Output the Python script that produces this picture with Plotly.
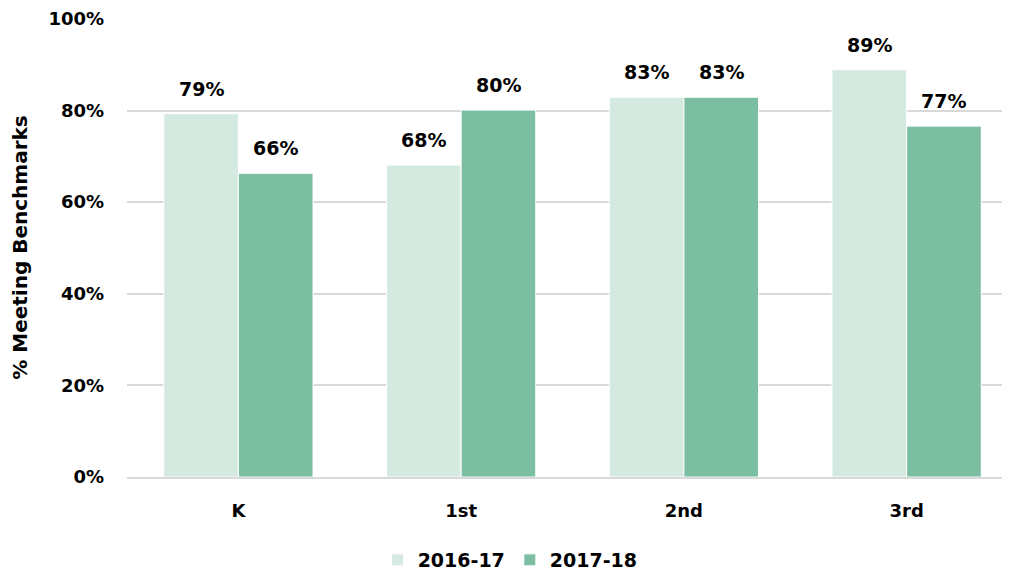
import plotly.graph_objects as go

grades = ["K", "1st", "2nd", "3rd"]
y2016 = [0.793, 0.681, 0.829, 0.889]
y2017 = [0.663, 0.801, 0.829, 0.766]
series_names = ["2016-17", "2017-18"]
yticks = [0, 0.2, 0.4, 0.6, 0.8, 1.0]
ytick_labels = ["0%", "20%", "40%", "60%", "80%", "100%"]

font_fam = "'DejaVu Sans', sans-serif"
W, H = 1010, 571
# the page body adds an 8px offset; margins compensate for it
ml, mr, mt, mb = 119, 0, 10, 91
bargap = 0.33
cat_px = (W - ml - mr) / len(grades)
bar_px = cat_px * (1 - bargap) / 2

fig = go.Figure()
colors = ["#d4e9e0", "#7bbea2"]
for i, (name, vals) in enumerate([(series_names[0], y2016), (series_names[1], y2017)]):
    fig.add_trace(go.Bar(
        x=grades, y=vals, name="<b>%s</b>" % name, marker_color=colors[i],
        marker_line=dict(color="white", width=1),
    ))
    shift = (-0.5 if i == 0 else 0.5) * bar_px
    for g, v in zip(grades, vals):
        fig.add_annotation(x=g, y=v, xref="x", yref="y", text="<b>%d%%</b>" % round(v * 100),
                           showarrow=False, xshift=shift, yshift=25, yanchor="middle",
                           font=dict(size=19, color="black", family=font_fam))

fig.update_layout(
    width=W, height=H,
    margin=dict(l=ml, r=mr, t=mt, b=mb),
    plot_bgcolor="white", paper_bgcolor="white",
    barmode="group", bargap=bargap, bargroupgap=0,
    font=dict(family=font_fam, color="black"),
    legend=dict(orientation="h", x=0.43, xanchor="center", y=-0.14, yanchor="top",
                font=dict(size=19, family=font_fam), traceorder="normal",
                itemwidth=30),
    showlegend=True,
)
fig.update_yaxes(range=[0, 1.002], tickvals=yticks, ticktext=["<b>%s</b>" % t for t in ytick_labels],
                 showgrid=True, gridcolor="#d9d9d9", gridwidth=2, zeroline=False,
                 showline=False, tickfont=dict(size=18), ticks="", ticklabelstandoff=22,
                 automargin=False,
                 title=dict(text="<b>% Meeting Benchmarks</b>", font=dict(size=20), standoff=22))
fig.update_xaxes(showline=True, linecolor="#d9d9d9", linewidth=2,
                 ticktext=["<b>%s</b>" % g for g in grades], tickvals=grades,
                 tickfont=dict(size=18), ticks="", ticklabelstandoff=16, automargin=False)

fig.write_html("out.html")
